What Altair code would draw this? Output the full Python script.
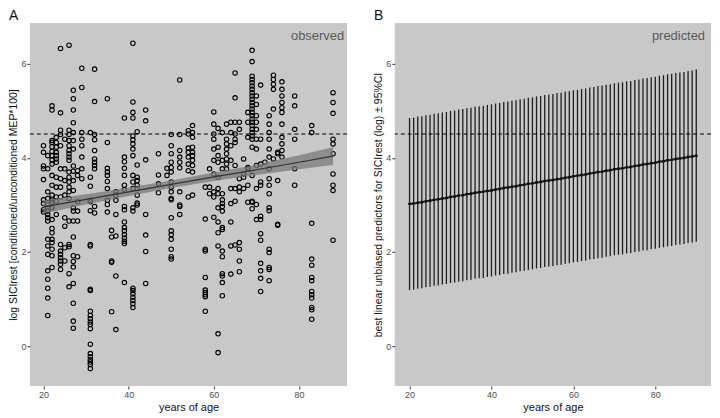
import altair as alt
import pandas as pd

# ---------------- observed data (panel A): columns of repeated measures by age
obs_ages = [20, 21, 22, 23, 24, 25, 26, 27, 28, 29, 31, 32, 35, 36, 37, 39, 41, 42, 44, 47,
            49, 50, 52, 54, 55, 58, 59, 60, 61, 62, 63, 64, 65, 66, 67, 68, 69, 70, 71, 72,
            73, 74, 75, 76, 79, 83, 88]
obs_values = [
    [4.26, 4.12, 3.83, 3.77, 3.54, 3.11, 3.03, 2.90, 2.85],
    [4.05, 3.77, 3.28, 3.14, 3.01, 2.94, 2.87, 2.80, 2.73, 2.66, 2.27, 2.13, 1.95, 1.60, 1.42, 1.23, 1.02, 0.65],
    [5.11, 5.02, 4.37, 4.33, 4.24, 4.14, 4.05, 3.96, 3.87, 3.63, 3.42, 3.21, 3.06, 3.11, 2.94, 2.69, 2.50, 2.41, 2.27, 2.20, 2.06, 1.92, 1.67],
    [4.44, 4.33, 4.23, 4.12, 4.05, 3.98, 3.91, 3.59, 3.38, 3.17, 3.08, 2.80],
    [6.33, 4.96, 4.59, 4.50, 4.26, 3.77, 3.56, 3.38, 3.17, 2.16, 2.02, 1.95, 1.88, 1.81, 1.74, 1.63],
    [4.40, 3.77, 3.52, 3.21, 2.73, 2.55, 2.09, 1.81],
    [6.40, 4.59, 4.50, 4.37, 4.26, 4.16, 4.09, 4.02, 3.95, 3.70, 3.59, 3.49, 3.38, 3.28, 3.14, 2.66, 2.16, 2.11, 1.54, 1.26],
    [5.44, 5.26, 5.02, 4.75, 4.54, 4.37, 4.19, 3.83, 3.72, 3.52, 3.31, 2.94, 2.87, 2.66, 2.32, 1.92, 1.80, 1.68, 1.33, 0.91, 0.53, 0.38],
    [3.73, 3.63, 3.07, 2.87, 2.66, 1.90],
    [5.91, 5.50, 4.54, 4.40, 4.26, 4.02, 3.77, 3.56],
    [4.54, 3.59, 3.40, 3.10, 3.07, 2.88, 2.16, 2.13, 1.21, 1.18, 0.74, 0.65, 0.58, 0.51, 0.46, 0.37, 0.04, -0.16, -0.23, -0.29, -0.34, -0.39, -0.48],
    [5.89, 5.20, 4.50, 4.39, 4.16, 3.98, 3.91, 3.84, 3.77, 2.97, 2.83],
    [5.26, 4.33, 3.78, 3.70, 3.63, 3.50, 3.35, 3.10, 3.01, 2.85],
    [2.46, 2.32, 1.81, 1.78, 0.73],
    [3.28, 3.21, 3.10, 2.80, 2.34, 1.49, 0.35],
    [4.85, 4.02, 3.92, 3.78, 3.63, 3.42, 3.33, 2.97, 2.90, 2.64, 2.52, 2.45, 2.37, 2.30, 2.23, 2.18, 1.35],
    [6.44, 5.19, 4.97, 4.85, 4.47, 4.39, 4.30, 4.19, 4.05, 3.63, 3.49, 3.35, 2.94, 2.87, 1.23, 1.18, 1.11, 1.04, 0.97, 0.90, 0.82],
    [4.56, 3.85, 3.59, 3.52, 3.42, 3.35, 3.21, 3.04, 3.00],
    [5.02, 4.79, 3.96, 2.80, 2.36, 2.01, 1.33],
    [4.09, 3.64, 3.45, 3.26],
    [3.78, 3.63],
    [4.50, 4.26, 4.09, 3.91, 3.80, 3.70, 3.49, 3.38, 3.28, 3.14, 3.11, 2.73, 2.45, 2.37, 2.27, 2.06, 1.90, 1.85],
    [5.66, 4.50, 4.16, 4.02, 3.91, 3.79, 3.28, 3.00, 2.97, 2.80],
    [4.58, 4.51, 4.21, 4.12, 4.02, 3.87, 3.73, 3.17],
    [4.69, 4.54, 4.44, 4.23, 4.12, 4.05, 3.95, 3.84, 3.70, 3.21],
    [3.38, 2.70, 2.06, 2.02, 1.46, 1.19, 1.14, 1.09, 1.05, 0.74],
    [3.77, 3.38, 3.24],
    [4.98, 4.72, 4.51, 4.40, 4.19, 3.95, 3.66, 3.28, 3.17, 2.74],
    [4.63, 4.23, 4.05, 3.91, 3.59, 3.35, 3.24, 2.94, 2.64, 2.41, 2.13, 0.26, -0.14],
    [4.54, 3.95, 3.77, 3.24, 3.03, 3.11, 2.97, 2.87, 2.52, 2.48, 2.02, 1.90, 1.54, 1.49, 1.35, 1.07],
    [4.72, 4.40, 4.30, 4.19, 4.09, 3.98, 3.87, 3.77],
    [4.76, 4.54, 4.26, 3.95, 3.35, 3.03, 2.64, 2.13, 1.53],
    [5.81, 5.28, 4.76, 4.51, 4.40, 4.33, 3.84, 3.35, 3.08, 2.15],
    [4.76, 4.61, 3.56, 3.38, 3.28, 2.20, 2.06, 1.81, 1.58],
    [3.98, 3.66, 3.59, 3.35],
    [4.97, 4.76, 4.44, 3.80, 3.77, 3.42, 3.06],
    [6.29, 6.05, 5.74, 5.67, 5.60, 5.53, 5.46, 5.39, 5.32, 5.25, 5.18, 5.11, 5.04, 4.97, 4.90, 4.83, 4.76, 4.69, 4.61, 4.54, 4.47, 4.40, 4.23, 3.63, 3.06, 3.08, 2.92],
    [5.32, 5.14, 4.90, 4.76, 4.61, 4.40, 4.19, 3.84, 3.35, 3.01, 2.69],
    [5.55, 4.40, 3.87, 3.49, 3.42, 2.76, 2.69, 2.39, 2.25, 1.76, 1.60, 1.44, 1.16],
    [3.91],
    [4.90, 4.72, 4.54, 4.40, 4.19, 4.02, 3.77, 3.56, 3.42, 3.24, 2.94, 2.88, 2.06, 1.99, 1.67, 1.63, 1.39],
    [5.76, 5.67, 5.57, 5.46, 5.04, 3.98],
    [4.12, 4.09, 3.52, 2.59, 2.57],
    [5.62, 5.46, 5.32, 5.18, 5.07, 4.97, 4.72, 4.44, 4.30, 4.16, 4.02],
    [5.32, 5.11, 4.61, 4.40, 3.77, 3.42],
    [4.69, 4.54, 2.61, 1.85, 1.72, 1.46, 1.39, 1.16, 1.09, 1.02, 0.82, 0.77, 0.57],
    [5.39, 5.18, 4.95, 4.40, 4.30, 4.09, 3.66, 3.42, 3.31, 2.25],
]

# regression fit with 95% band (panel A)
fit_ages = [20, 30, 40, 50, 60, 70, 80, 88]
fit_values = [2.96, 3.12, 3.28, 3.44, 3.60, 3.75, 3.91, 4.04]
fit_lower = [2.82, 3.01, 3.19, 3.36, 3.51, 3.64, 3.76, 3.85]
fit_upper = [3.10, 3.23, 3.37, 3.52, 3.69, 3.86, 4.06, 4.23]

# predicted values (panel B)
pred_ages = list(range(20, 91))
pred_values = [3.02, 3.03, 3.05, 3.06, 3.08, 3.09, 3.11, 3.12, 3.14, 3.15,
               3.17, 3.18, 3.20, 3.21, 3.23, 3.24, 3.26, 3.27, 3.28, 3.30,
               3.31, 3.33, 3.34, 3.36, 3.37, 3.39, 3.40, 3.42, 3.43, 3.45,
               3.46, 3.48, 3.49, 3.51, 3.52, 3.53, 3.55, 3.56, 3.58, 3.59,
               3.61, 3.62, 3.64, 3.65, 3.67, 3.68, 3.70, 3.71, 3.73, 3.74,
               3.76, 3.77, 3.78, 3.80, 3.81, 3.83, 3.84, 3.86, 3.87, 3.89,
               3.90, 3.92, 3.93, 3.95, 3.96, 3.98, 3.99, 4.00, 4.02, 4.03, 4.05]
pred_halfwidth = 1.83

threshold = 4.51
x_ticks = [20, 40, 60, 80]
y_ticks = [0, 2, 4, 6]

# ---------------- tables
obs_df = pd.DataFrame(
    [(a, v) for a, vals in zip(obs_ages, obs_values) for v in vals],
    columns=["age", "value"],
)
fit_df = pd.DataFrame({"age": fit_ages, "fit": fit_values, "lo": fit_lower, "hi": fit_upper})
pred_df = pd.DataFrame({"age": pred_ages, "fit": pred_values})
pred_df["lo"] = pred_df["fit"] - pred_halfwidth
pred_df["hi"] = pred_df["fit"] + pred_halfwidth
thr_df = pd.DataFrame({"y": [threshold]})

FONT = "Liberation Sans"
Y_DOMAIN = [-0.85, 6.87]


def xaxis():
    return alt.Axis(values=x_ticks, title="years of age", grid=False, domain=False,
                    tickColor="#333333", tickSize=3, labelColor="#4d4d4d",
                    labelFontSize=9, labelPadding=2, titleFontSize=11,
                    titleFontWeight="normal", titleColor="#111111", titlePadding=2,
                    labelFont=FONT, titleFont=FONT)


def yaxis(title):
    return alt.Axis(values=y_ticks, title=title, grid=False, domain=False,
                    tickColor="#333333", tickSize=3, labelColor="#4d4d4d",
                    labelFontSize=9, labelPadding=1, titleFontSize=10.5,
                    titleFontWeight="normal", titleColor="#111111", titlePadding=2,
                    labelFont=FONT, titleFont=FONT)


xA = alt.Scale(domain=[16.8, 91.3], nice=False, zero=False)
xB = alt.Scale(domain=[16.4, 93.6], nice=False, zero=False)
yS = alt.Scale(domain=Y_DOMAIN, nice=False, zero=False)

# ---------------- panel A
pts = alt.Chart(obs_df).mark_point(shape="circle", filled=False, color="black",
                                   strokeWidth=1.1, size=20, opacity=1).encode(
    x=alt.X("age:Q", scale=xA, axis=xaxis()),
    y=alt.Y("value:Q", scale=yS,
            axis=yaxis("log SICIrest [conditioned/unconditioned MEP*100]")),
)
band = alt.Chart(fit_df).mark_area(color="#7a7a7a", opacity=0.75).encode(
    x="age:Q", y="lo:Q", y2="hi:Q")
line = alt.Chart(fit_df).mark_line(color="#333333", strokeWidth=1.2).encode(
    x="age:Q", y="fit:Q")
thrA = alt.Chart(thr_df).mark_rule(color="black", strokeDash=[4, 3], strokeWidth=1.2).encode(
    y="y:Q")
labA = alt.Chart(thr_df).mark_text(text="observed", align="right", baseline="top",
                                   fontSize=13, color="#5a5a5a", font=FONT).encode(
    x=alt.value(316), y=alt.value(7))

panelA = alt.layer(pts, band, line, thrA, labA).properties(
    width=319, height=365,
    title=alt.TitleParams("A", anchor="start", fontSize=14, fontWeight="normal",
                          font=FONT, offset=0, color="#111111"),
)

# ---------------- panel B
rules = alt.Chart(pred_df).mark_rule(color="#1e1e1e", strokeWidth=1.3).encode(
    x=alt.X("age:Q", scale=xB, axis=xaxis()),
    y=alt.Y("lo:Q", scale=yS,
            axis=yaxis("best linear unbiased predictors for SICIrest (log) \u00b1 95%CI")),
    y2="hi:Q",
)
cline = alt.Chart(pred_df).mark_line(color="#222222", strokeWidth=2).encode(
    x="age:Q", y="fit:Q")
cpts = alt.Chart(pred_df).mark_point(filled=True, color="#111111", size=9, opacity=1).encode(
    x="age:Q", y="fit:Q")
thrB = alt.Chart(thr_df).mark_rule(color="black", strokeDash=[4, 3], strokeWidth=1.2).encode(
    y="y:Q")
labB = alt.Chart(thr_df).mark_text(text="predicted", align="right", baseline="top",
                                   fontSize=13, color="#5a5a5a", font=FONT).encode(
    x=alt.value(312), y=alt.value(7))

panelB = alt.layer(rules, cline, cpts, thrB, labB).properties(
    width=318, height=365,
    title=alt.TitleParams("B", anchor="start", fontSize=14, fontWeight="normal",
                          font=FONT, offset=0, color="#111111"),
)

chart = alt.hconcat(panelA, panelB, spacing=25).properties(
    padding={"left": 0, "top": 0, "right": 0, "bottom": 0},
    background="white",
).configure_view(
    fill="#c8c8c8", stroke=None,
)

chart.save("out.html", embed_options={"renderer": "svg", "actions": False})
